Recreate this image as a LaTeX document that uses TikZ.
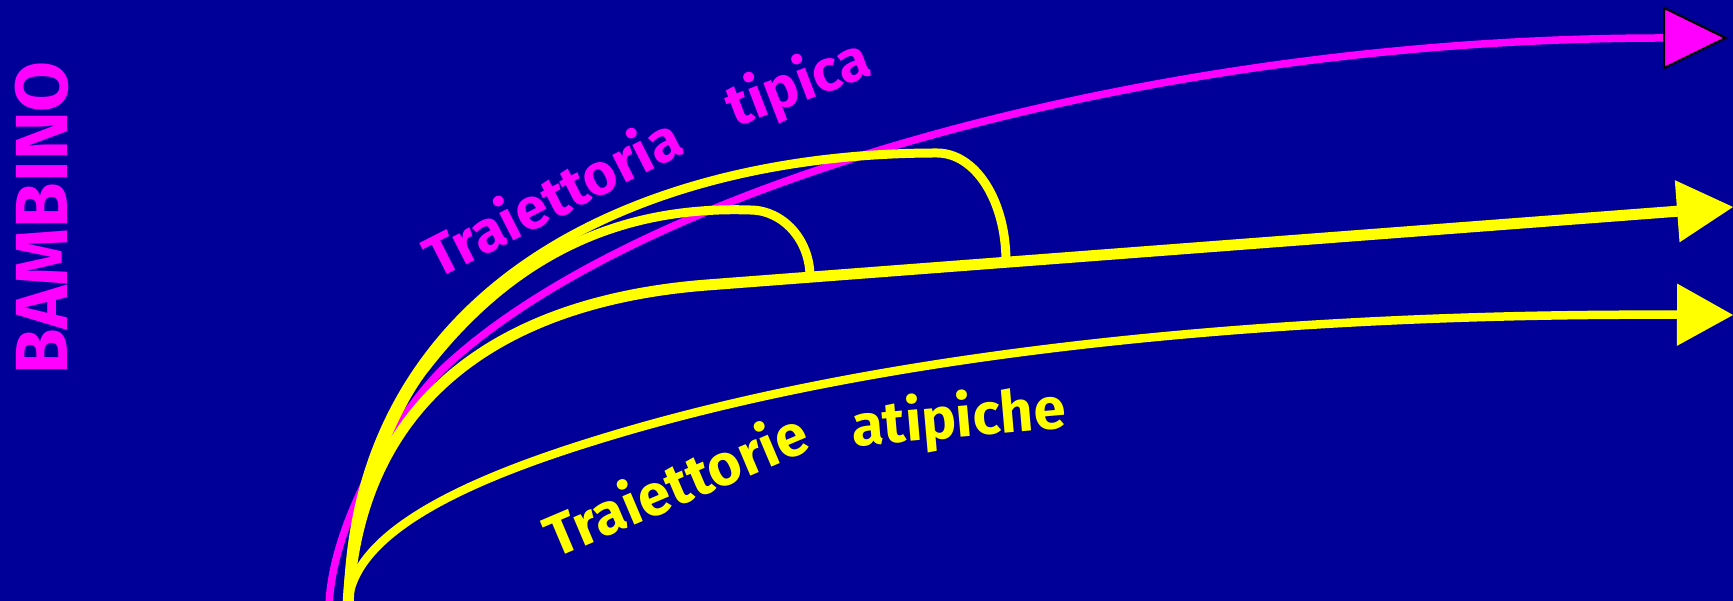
\documentclass[tikz,border=0pt]{standalone}
\usepackage{fontspec}
\setmainfont{Fira Sans}
\usepackage{xcolor}
\usepackage{tikz}
\usetikzlibrary{arrows.meta}
\definecolor{deepblue}{HTML}{000099}
\definecolor{pinkline}{HTML}{FF00FF}
\definecolor{yellowline}{HTML}{FFFF00}

\tikzset{
    typical/.style={draw=pinkline, line width=0.75mm},
    atypical/.style={draw=yellowline, line width=0.9mm},
    pinktip/.style={-{Triangle[length=6.5mm, width=6.3mm, fill=pinkline, color=black, line width=0.6pt]}},
    yellowtip/.style={-{Triangle[length=5.6mm, width=6.2mm, line width=0.4pt]}},
    curvelabel/.style={font=\bfseries\fontsize{16.5}{19}\selectfont, anchor=base, inner sep=0pt},
}

\begin{document}
\begin{tikzpicture}[x=0.1mm, y=-0.1mm]
    \fill[deepblue] (0,0) rectangle (1733,601);
    \useasboundingbox (0,0) rectangle (1733,601);

    % where the curves start, turn and end
    \coordinate (pinkstart) at (329,606);
    \coordinate (pinkknee) at (445,367);
    \coordinate (pinkend) at (1728,38);
    \coordinate (yellowstart) at (348,606);
    \coordinate (bend) at (707,285);
    \coordinate (midend) at (1733,207);
    \coordinate (lowturn) at (597,440);
    \coordinate (lowend) at (1733,315);
    \coordinate (smallknee) at (426,367);
    \coordinate (smalltop) at (750,210);
    \coordinate (smallfoot) at (810,277);
    \coordinate (bigtop) at (937,153);
    \coordinate (bigfoot) at (1006,262);

    % typical trajectory
    \draw[typical, pinktip] (pinkstart) .. controls (332,520) and (400,410) .. (pinkknee)
        .. controls (640,185) and (1150,38) .. (pinkend);

    % atypical trajectories
    \draw[atypical, line width=1.1mm, yellowtip] (yellowstart) .. controls (357,400) and (500,301) .. (bend) -- (midend);
    \draw[atypical, line width=0.85mm, yellowtip] (yellowstart) .. controls (350,530) and (477,477) .. (lowturn)
        .. controls (897,347) and (1300,313) .. (lowend);
    \draw[atypical] (yellowstart) .. controls (352,500) and (395,405) .. (smallknee)
        .. controls (500,272) and (600,205) .. (smalltop)
        .. controls (783,210) and (810,240) .. (smallfoot);
    \draw[atypical] (yellowstart) .. controls (352,285) and (640,153) .. (bigtop)
        .. controls (975,153) and (1006,200) .. (bigfoot);

    \node[curvelabel, text=pinkline, rotate=27] (typword) at (562,216) {Traiettoria};
    \node[curvelabel, text=pinkline, rotate=21] (typadj) at (805,101) {tipica};
    \node[curvelabel, text=yellowline, rotate=23] (atypword) at (684,504) {Traiettorie};
    \node[curvelabel, text=yellowline, rotate=5] (atypadj) at (960,437) {atipiche};

    \node[font=\bfseries\fontsize{21}{25}\selectfont, text=pinkline, rotate=90,
          anchor=base, inner sep=0pt] (child) at (67,218) {BAMBINO};
\end{tikzpicture}
\end{document}
